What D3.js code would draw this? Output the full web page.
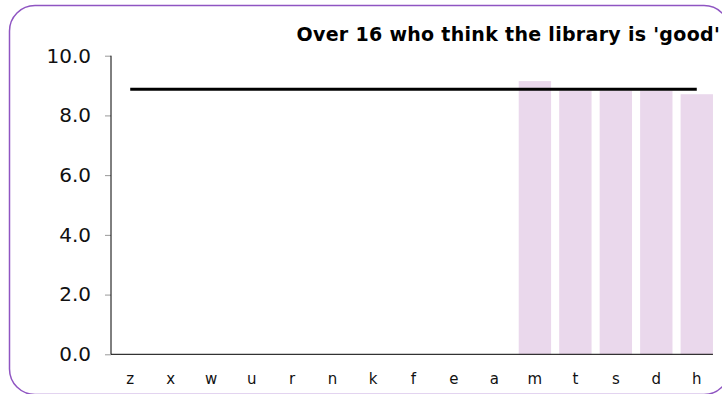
<!DOCTYPE html>
<html>
<head>
<meta charset="utf-8">
<script src="https://cdn.jsdelivr.net/npm/d3@7"></script>
<style>
  body { margin: 0; background: #fff; }
  svg { display: block; }
  svg text { font-family: "DejaVu Sans", Verdana, sans-serif; }
  .axis .domain { display: none; }
  .y-axis .tick line { stroke: #999; }
  .y-axis .tick text { font-size: 20px; fill: #111; }
  .x-axis .tick line { display: none; }
  .x-axis .tick text { font-size: 15px; fill: #111; }
</style>
</head>
<body>
<svg id="chart" width="722" height="394"></svg>
<script>
// categories along the bottom, and the share who said 'good' (0 = no bar)
var categories = ["z", "x", "w", "u", "r", "n", "k", "f", "e", "a", "m", "t", "s", "d", "h"];
var values = [0, 0, 0, 0, 0, 0, 0, 0, 0, 0, 9.15, 8.83, 8.83, 8.83, 8.71];
var average = 8.88;
var yTicks = [0, 2, 4, 6, 8, 10];
var title = "Over 16 who think the library is 'good'";

var svg = d3.select("#chart");

var params = {
  "plot": { "left": 111, "right": 716, "top": 55.7, "bottom": 354.3 }
};

var data = categories.map(function(c, i) { return { "cat": c, "value": values[i] }; });

var scale = {
  "x": d3.scaleBand()
    .domain(categories)
    .range([params.plot.left, params.plot.right])
    .paddingInner(0.2)
    .paddingOuter(0.075),
  "y": d3.scaleLinear()
    .domain([0, 10])
    .range([params.plot.bottom, params.plot.top])
};

// rounded purple frame, runs off the right and bottom edges
svg.append("rect")
  .attr("x", 9.5)
  .attr("y", 5.5)
  .attr("width", 720)
  .attr("height", 389)
  .attr("rx", 25.5)
  .attr("ry", 25.5)
  .style("fill", "none")
  .style("stroke", "#8f55c2")
  .style("stroke-width", 1.5);

// bars
svg.append("g")
  .selectAll("rect")
  .data(data.filter(function(d) { return d.value > 0; }))
  .enter()
  .append("rect")
  .attr("x", function(d) { return scale.x(d.cat); })
  .attr("y", function(d) { return scale.y(d.value); })
  .attr("width", scale.x.bandwidth())
  .attr("height", function(d) { return scale.y(0) - scale.y(d.value); })
  .style("fill", "#ead8ec");

// y axis
var gy = svg.append("g")
  .attr("class", "axis y-axis")
  .attr("transform", "translate(" + params.plot.left + ",0)")
  .call(d3.axisLeft(scale.y).tickValues(yTicks).tickFormat(d3.format(".1f")).tickSize(6).tickPadding(14));

svg.append("line")
  .attr("x1", params.plot.left).attr("x2", params.plot.left)
  .attr("y1", scale.y(10)).attr("y2", scale.y(0))
  .style("stroke", "#000");

// x axis
var gx = svg.append("g")
  .attr("class", "axis x-axis")
  .attr("transform", "translate(0," + params.plot.bottom + ")")
  .call(d3.axisBottom(scale.x).tickSize(0).tickPadding(19));

var last = categories[categories.length - 1];
svg.append("line")
  .attr("x1", params.plot.left)
  .attr("x2", scale.x(last) + scale.x.bandwidth())
  .attr("y1", scale.y(0)).attr("y2", scale.y(0))
  .style("stroke", "#000");

// average line, from first to last band centre
var half = scale.x.bandwidth() / 2;
svg.append("line")
  .attr("x1", scale.x(categories[0]) + half)
  .attr("x2", scale.x(last) + half)
  .attr("y1", scale.y(average))
  .attr("y2", scale.y(average))
  .style("stroke", "#000")
  .style("stroke-width", 3);

// title
svg.append("text")
  .attr("x", 720)
  .attr("y", 41)
  .attr("text-anchor", "end")
  .style("font-size", "19px")
  .style("font-weight", "bold")
  .style("letter-spacing", "0.3px")
  .style("fill", "#000")
  .text(title);
</script>
</body>
</html>
